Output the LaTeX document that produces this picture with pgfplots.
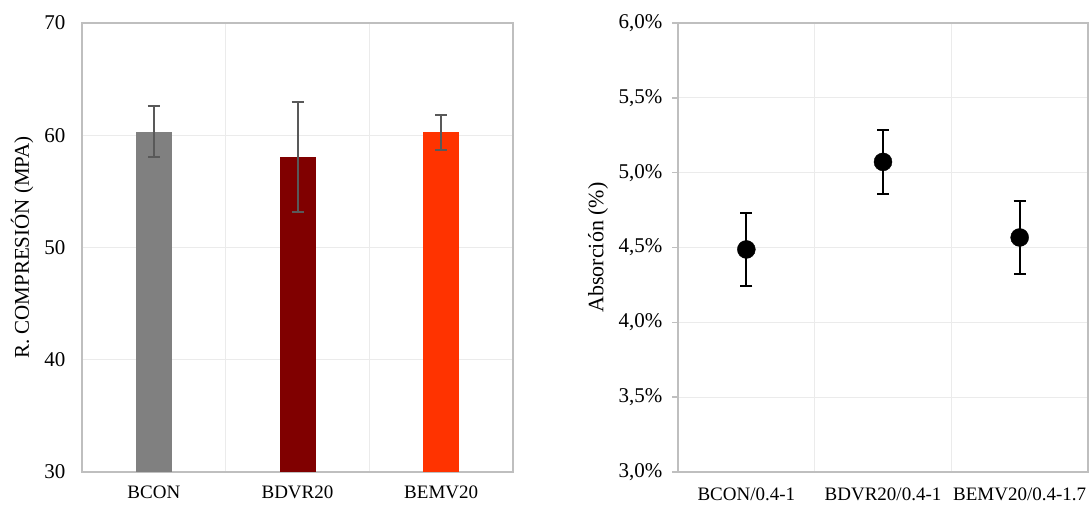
\documentclass[border=0pt]{standalone}
\usepackage{pgfplots}
\pgfplotsset{compat=1.18}
\usepackage{fontspec}
\setmainfont{Liberation Serif}
\definecolor{axisgray}{HTML}{BFBFBF}
\definecolor{gridgray}{HTML}{EBEBEB}
\definecolor{errgray}{HTML}{595959}
\definecolor{cgray}{HTML}{808080}
\definecolor{cdred}{HTML}{800000}
\definecolor{corange}{HTML}{FF3300}
\begin{document}
\begin{tikzpicture}
\path[use as bounding box] (-82pt,-33pt) rectangle (1007pt,472pt);
\pgfplotsset{
  common/.style={
    scale only axis,
    height=449pt,
    xmin=-0.5, xmax=2.5,
    xtick={0,1,2},
    minor xtick={0.5,1.5},
    xminorgrids=true,
    ymajorgrids=true,
    grid style={draw=gridgray, line width=1.2pt},
    minor grid style={draw=gridgray, line width=1.2pt},
    axis line style={draw=axisgray, line width=1.6pt},
    x tick label style={font=\fontsize{19}{22}\selectfont, yshift=-6pt},
    y tick label style={font=\fontsize{21}{24}\selectfont},
    /pgf/number format/assume math mode=true,
    xtick style={draw=none},
    minor tick length=0pt,
    clip=false,
  }
}
\begin{axis}[common,
  at={(0pt,0pt)}, anchor=south west,
  width=431pt,
  ymin=30, ymax=70,
  ytick={30,40,50,60,70},
  ytick style={draw=none},
  y tick label style={xshift=-13pt},
  xticklabels={BCON,BDVR20,BEMV20},
  ylabel={R. COMPRESIÓN (MPA)},
  y label style={at={(axis description cs:-0.139,0.5)}, anchor=center, font=\fontsize{21}{24}\selectfont},
  ybar, bar width=36pt, bar shift=0pt,
]
\addplot[fill=cgray, draw=none,
  error bars/.cd, y dir=both, y explicit,
  error bar style={draw=errgray, line width=2pt},
  error mark options={rotate=90, mark size=6pt, line width=2pt, draw=errgray}]
  coordinates {(0,60.32) +- (0,2.25)};
\addplot[fill=cdred, draw=none,
  error bars/.cd, y dir=both, y explicit,
  error bar style={draw=errgray, line width=2pt},
  error mark options={rotate=90, mark size=6pt, line width=2pt, draw=errgray}]
  coordinates {(1,58.04) +- (0,4.92)};
\addplot[fill=corange, draw=none,
  error bars/.cd, y dir=both, y explicit,
  error bar style={draw=errgray, line width=2pt},
  error mark options={rotate=90, mark size=6pt, line width=2pt, draw=errgray}]
  coordinates {(2,60.25) +- (0,1.53)};
\end{axis}
\begin{axis}[common,
  at={(596pt,0pt)}, anchor=south west,
  width=410pt,
  ymin=3, ymax=6,
  ytick={3,3.5,4,4.5,5,5.5,6},
  yticklabel={\pgfmathprintnumber[fixed,fixed zerofill,precision=1,use comma]{\tick}\%},
  ytick style={draw=axisgray, line width=1.6pt},
  tick align=outside,
  major tick length=6pt,
  y tick label style={xshift=-6pt},
  xticklabels={BCON/0.4-1,BDVR20/0.4-1,BEMV20/0.4-1.7},
  ylabel={Absorción (\%)},
  y label style={at={(axis description cs:-0.195,0.5)}, anchor=center, font=\fontsize{22}{26}\selectfont},
]
\addplot[only marks, mark=*, mark size=9pt, mark options={fill=black, draw=black},
  error bars/.cd, y dir=both, y explicit,
  error bar style={draw=black, line width=2.2pt},
  error mark options={rotate=90, mark size=6pt, line width=2.2pt, draw=black}]
  coordinates {
    (0,4.487) +- (0,0.243)
    (1,5.072) +- (0,0.213)
    (2,4.567) +- (0,0.244)
  };
\end{axis}
\end{tikzpicture}
\end{document}
